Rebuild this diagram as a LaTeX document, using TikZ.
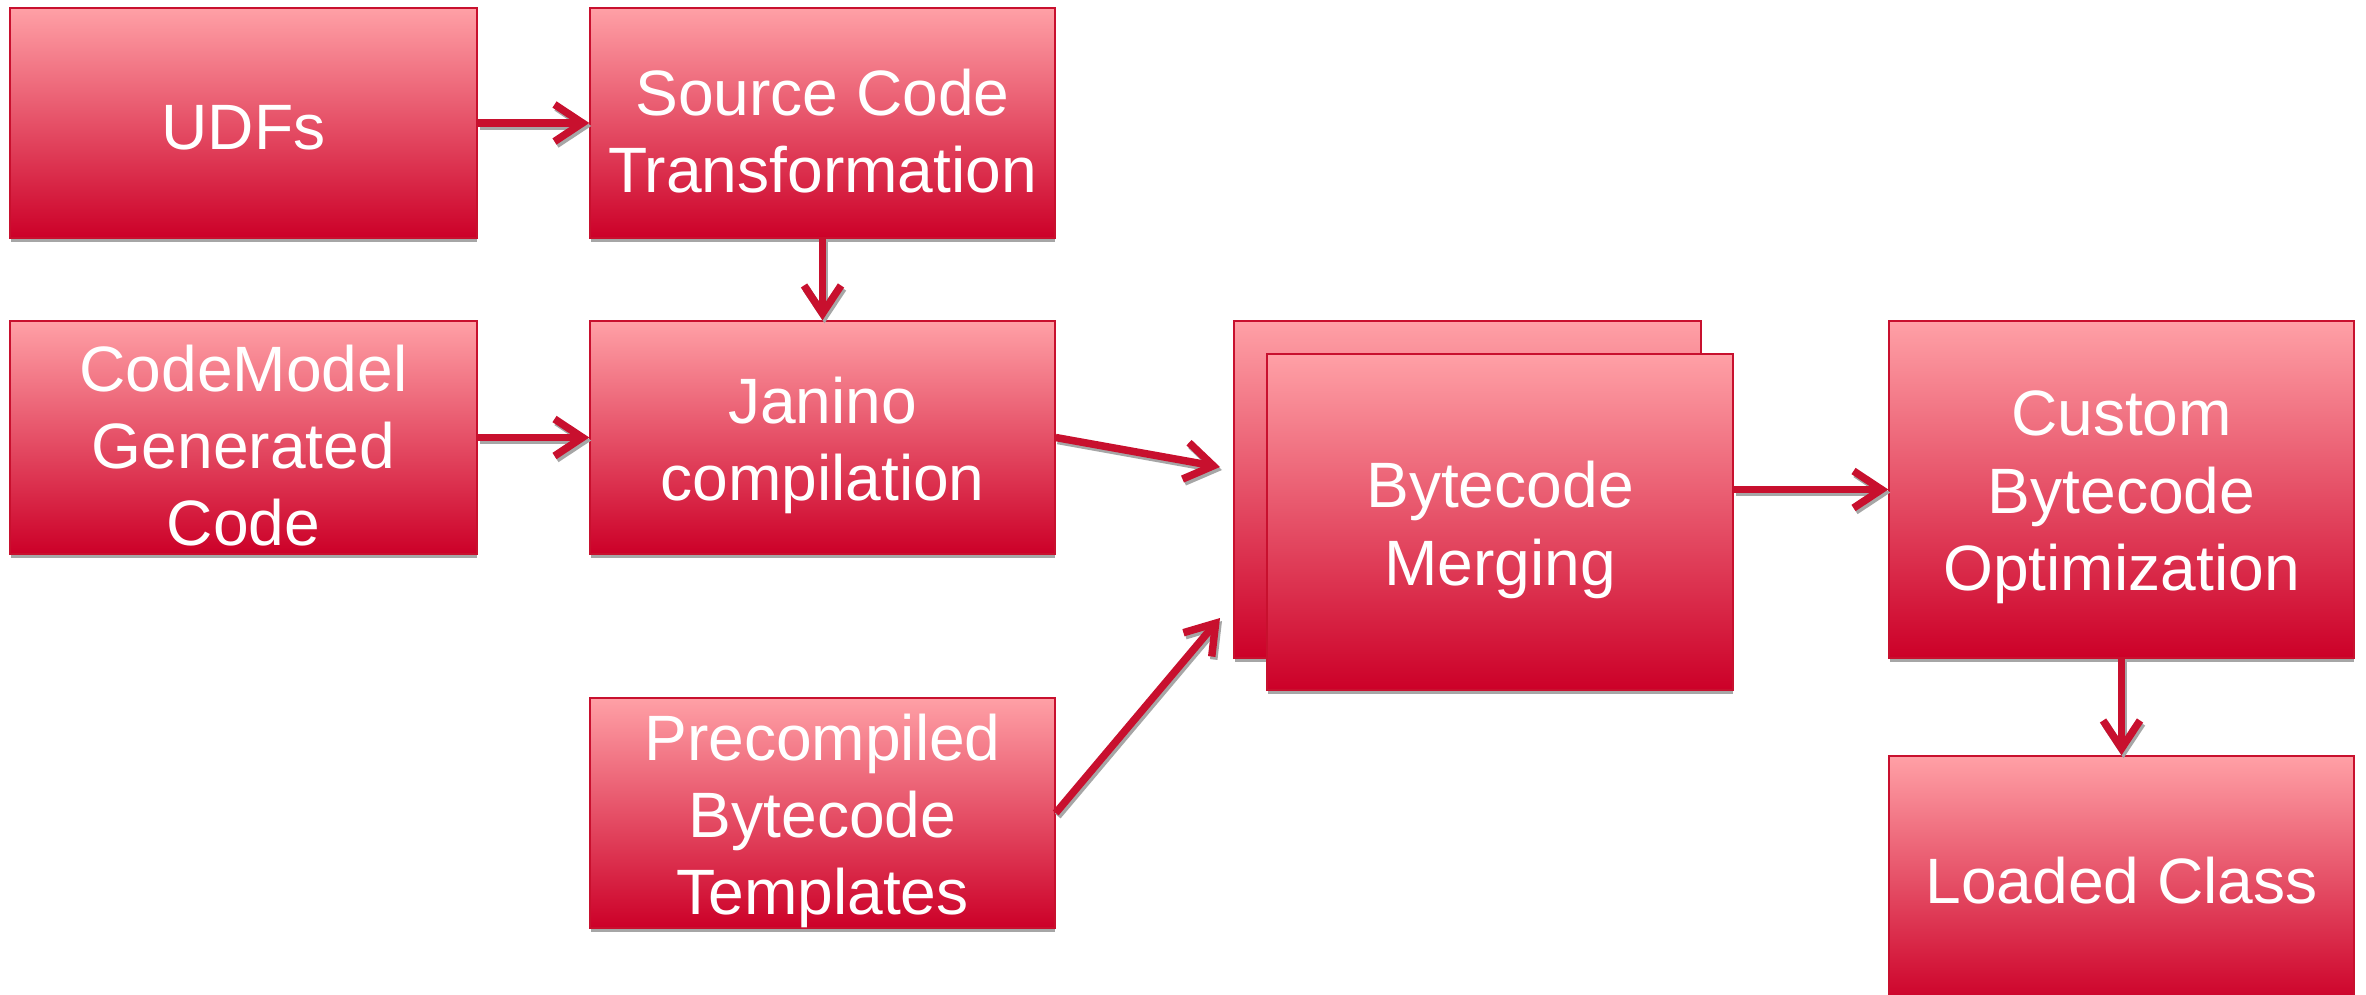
\documentclass[tikz,border=0pt]{standalone}
\usepackage{fontspec}
\setmainfont{Liberation Sans}
\usetikzlibrary{arrows.meta,shadows,calc}
\definecolor{crim}{HTML}{C8102E}
\definecolor{boxtop}{HTML}{FFA0A6}
\definecolor{boxbot}{HTML}{CC0028}
\tikzset{
  box/.style={draw=crim, line width=0.03cm, top color=boxtop, bottom color=boxbot,
    general shadow={fill=black!35, shadow xshift=0.01cm, shadow yshift=-0.09cm},
    inner sep=0pt},
  lbl/.style={text=white, align=center, inner sep=0pt, yshift=-0.16cm,
    font=\fontsize{36.5}{44}\selectfont},
  conn/.style={draw=crim, line width=0.15cm, -{Straight Barb[length=0.56cm,width=0.74cm].}},
  connsh/.style={draw=black!35, line width=0.15cm, -{Straight Barb[length=0.56cm,width=0.74cm].},
    transform canvas={xshift=0.04cm,yshift=-0.06cm}}
}
\newcommand\myconn[2]{\draw[connsh] #1 -- #2; \draw[conn] #1 -- #2;}
\begin{document}
\begin{tikzpicture}[x=0.02cm,y=-0.02cm]
\useasboundingbox[fill=white] (0,0) rectangle (2366,994);
\node[box, minimum width=9.34cm, minimum height=4.6cm, label={[lbl, yshift=0.06cm]center:UDFs}] (udf) at (243.5,123) {};
\node[box, minimum width=9.3cm, minimum height=4.6cm, label={[lbl]center:{Source Code\\Transformation}}] (src) at (822.5,123) {};
\node[box, minimum width=9.34cm, minimum height=4.66cm, label={[lbl]center:{CodeModel\\Generated\\Code}}] (cm) at (243.5,437.5) {};
\node[box, minimum width=9.3cm, minimum height=4.66cm, label={[lbl]center:{Janino\\compilation}}] (jan) at (822.5,437.5) {};
\node[box, minimum width=9.3cm, minimum height=4.6cm, label={[lbl]center:{Precompiled\\Bytecode\\Templates}}] (pre) at (822.5,813) {};
\node[box, minimum width=9.34cm, minimum height=6.74cm] (bback) at (1467.5,489.5) {};
\node[box, minimum width=9.32cm, minimum height=6.72cm, label={[lbl]center:{Bytecode\\Merging}}] (bfront) at (1500,522) {};
\node[box, minimum width=9.3cm, minimum height=6.74cm, label={[lbl]center:{Custom\\Bytecode\\Optimization}}] (cust) at (2121.5,489.5) {};
\node[box, minimum width=9.3cm, minimum height=4.96cm, label={[lbl, yshift=0.14cm]center:{Loaded Class}}] (load) at (2121.5,880) {};
\coordinate (mt1) at (1220,467);
\coordinate (mt2) at (1220,618);
\myconn{(udf.east)}{(src.west)}
\myconn{(src.south)}{(jan.north)}
\myconn{(cm.east)}{(jan.west)}
\myconn{(jan.east)}{(mt1)}
\myconn{(pre.east)}{(mt2)}
\myconn{(bfront.east |- cust.west)}{(cust.west)}
\myconn{(cust.south)}{(load.north)}
\end{tikzpicture}
\end{document}
